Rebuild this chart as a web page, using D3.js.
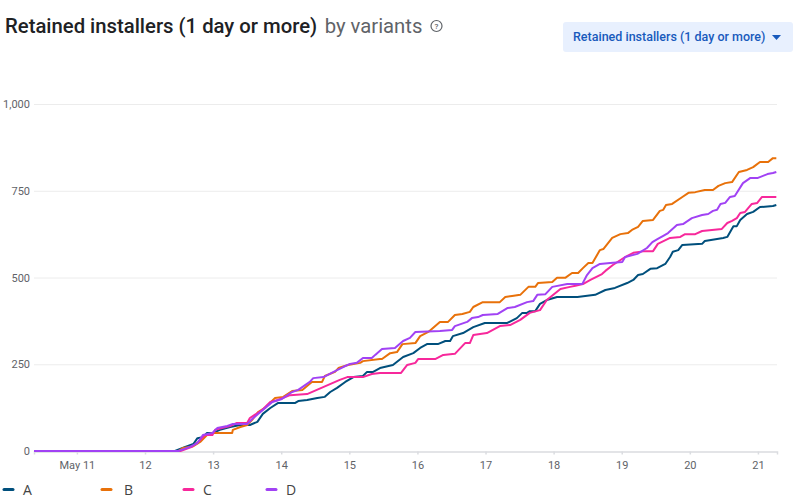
<!DOCTYPE html>
<html>
<head>
<meta charset="utf-8">
<script src="https://cdn.jsdelivr.net/npm/d3@7"></script>
<style>
  body { margin: 0; background: #fff; font-family: Roboto, sans-serif; }
  .grid line { stroke: #ececec; }
  .grid path { stroke: none; }
  .y-axis path, .y-axis line { stroke: none; }
  .y-axis text, .x-axis text { font: 11px Roboto, sans-serif; fill: #5f6368; }
  .x-axis path, .x-axis line { stroke: #dadce0; stroke-width: 1.5; }
  .series { fill: none; stroke-width: 2; stroke-linejoin: round; }
</style>
</head>
<body>
<script>
// data: x is day of May, y is installers
var names = ["A", "B", "C", "D"];
var colors = ["#004f7c", "#e8710a", "#f7289b", "#a142f4"];
var dayTicks = [11, 12, 13, 14, 15, 16, 17, 18, 19, 20, 21];
var dayLabels = ["May 11", "12", "13", "14", "15", "16", "17", "18", "19", "20", "21"];
var valueTicks = [0, 250, 500, 750, 1000];

var daysA = [10.37,12.44,12.59,12.71,12.77,12.85,12.91,13.00,13.10,13.25,13.40,13.54,13.65,13.73,13.84,13.95,14.20,14.25,14.38,14.53,14.64,14.72,14.82,14.94,15.06,15.20,15.26,15.35,15.45,15.64,15.79,15.94,16.04,16.14,16.30,16.41,16.48,16.52,16.67,16.82,16.99,17.32,17.46,17.54,17.61,17.65,17.73,17.80,17.90,18.05,18.35,18.61,18.76,18.90,19.08,19.17,19.24,19.31,19.42,19.52,19.64,19.71,19.75,19.83,19.89,20.18,20.22,20.49,20.55,20.64,20.69,20.74,20.84,20.93,21.03,21.22,21.27];
var valuesA = [0,0,12,20,37,40,52,52,61,69,75,75,84,107,124,138,138,144,147,153,156,170,182,199,213,216,228,228,239,248,271,282,297,308,308,317,317,331,340,357,369,369,383,398,398,403,403,424,435,444,444,450,464,470,484,493,507,510,525,527,539,559,574,579,594,597,605,614,617,648,648,666,683,689,703,706,709];

var daysB = [10.37,12.49,12.56,12.71,12.81,12.91,13.00,13.28,13.29,13.40,13.50,13.57,13.66,13.76,13.91,14.03,14.16,14.31,14.45,14.60,14.64,14.79,14.84,14.98,15.16,15.20,15.45,15.48,15.60,15.70,15.78,15.97,16.04,16.16,16.33,16.45,16.55,16.66,16.77,16.82,16.96,17.21,17.29,17.39,17.51,17.63,17.73,17.77,17.98,18.05,18.17,18.27,18.36,18.43,18.51,18.57,18.68,18.73,18.86,18.98,19.09,19.15,19.24,19.31,19.46,19.56,19.61,19.65,19.74,19.89,19.98,20.08,20.22,20.34,20.42,20.52,20.62,20.72,20.84,20.93,21.03,21.15,21.22,21.27];
var valuesB = [0,0,9,14,26,46,52,52,61,69,75,89,112,124,153,156,173,176,199,199,216,228,239,248,254,259,265,265,282,285,308,311,331,343,372,372,392,395,401,415,429,429,444,447,450,473,473,484,487,499,499,513,513,527,542,542,579,582,614,625,628,637,646,663,666,692,695,709,712,732,744,746,752,752,764,772,775,804,810,818,833,833,844,844];

var daysC = [10.37,12.52,12.69,12.78,12.88,12.99,13.03,13.13,13.25,13.35,13.50,13.54,13.72,13.84,13.95,14.13,14.38,14.86,14.97,15.20,15.33,15.45,15.76,15.85,15.97,16.01,16.26,16.38,16.55,16.70,16.77,16.82,17.02,17.21,17.36,17.51,17.65,17.80,17.90,18.10,18.24,18.32,18.43,18.54,18.71,18.76,18.87,19.05,19.17,19.34,19.46,19.53,19.71,19.86,19.93,20.08,20.18,20.47,20.55,20.62,20.69,20.74,20.81,20.91,20.99,21.06,21.27];
var valuesC = [0,0,12,26,46,46,61,66,72,81,81,95,118,141,147,161,164,205,213,213,222,225,225,248,254,265,265,277,280,311,311,334,340,360,363,378,398,406,435,467,473,476,481,493,510,519,536,559,571,576,576,597,614,617,625,625,634,640,657,663,671,686,689,712,715,732,732];

var daysD = [10.37,12.49,12.66,12.77,12.85,12.99,13.06,13.21,13.29,13.50,13.59,13.73,13.87,14.01,14.16,14.25,14.42,14.47,14.62,14.82,14.91,15.01,15.11,15.20,15.33,15.38,15.48,15.67,15.79,15.89,15.97,16.33,16.51,16.55,16.73,16.80,16.89,16.96,17.18,17.32,17.43,17.61,17.70,17.76,17.88,17.98,18.20,18.42,18.49,18.57,18.68,18.83,19.01,19.05,19.23,19.37,19.45,19.53,19.61,19.68,19.81,19.90,20.03,20.18,20.27,20.34,20.40,20.45,20.52,20.59,20.66,20.78,20.89,21.00,21.14,21.22,21.27];
var valuesD = [0,0,12,23,46,52,66,72,78,78,95,118,141,150,170,176,199,210,213,233,242,251,254,268,268,277,294,297,317,326,343,346,349,360,372,383,386,392,395,412,415,429,432,450,452,473,481,481,507,527,539,542,545,559,568,585,602,611,620,628,651,654,671,680,683,692,695,712,715,732,735,772,787,787,798,801,804];

var width = 800,
    height = 500;

var svg = d3.select("body").append("svg")
    .attr("width", width)
    .attr("height", height)
    .style("display", "block");

var x = d3.scaleLinear().domain([10.37, 21.28]).range([34, 777]);
var y = d3.scaleLinear().domain([0, 1000]).range([451, 104]);

// title
var title = svg.append("text").attr("x", 5).attr("y", 33)
    .style("font", "500 20.3px Roboto, sans-serif").style("fill", "#202124");
title.append("tspan").text("Retained installers (1 day or more)");
title.append("tspan").attr("dx", 7.5).style("font-weight", 400).style("fill", "#5f6368").text("by variants");

// help icon
svg.append("circle").attr("cx", 436.5).attr("cy", 26).attr("r", 5.5)
    .attr("fill", "none").attr("stroke", "#5f6368").attr("stroke-width", 1.2);
svg.append("text").attr("x", 436.5).attr("y", 29).attr("text-anchor", "middle")
    .style("font", "500 8px Roboto, sans-serif").style("fill", "#5f6368").text("?");

// metric dropdown
svg.append("rect").attr("x", 563).attr("y", 22).attr("width", 230).attr("height", 30).attr("rx", 3)
    .attr("fill", "#e8f0fe");
svg.append("text").attr("x", 573).attr("y", 41)
    .style("font", "500 12.5px Roboto, sans-serif").style("fill", "#185abc")
    .text("Retained installers (1 day or more)");
svg.append("path").attr("d", d3.line()([[772, 35], [781, 35], [776.5, 40]])).attr("fill", "#185abc");

// grid and axes
svg.append("g").attr("class", "grid")
    .attr("transform", "translate(34,0)")
    .call(d3.axisLeft(y).tickValues(valueTicks.slice(1)).tickSize(-743).tickFormat(""));

svg.append("g").attr("class", "y-axis")
    .attr("transform", "translate(34,0)")
    .call(d3.axisLeft(y).tickValues(valueTicks).tickSize(0).tickPadding(4).tickFormat(d3.format(",")));

svg.append("g").attr("class", "x-axis")
    .attr("transform", "translate(0,451.5)")
    .call(d3.axisBottom(x).tickValues(dayTicks).tickSizeOuter(0).tickSize(3).tickPadding(7)
      .tickFormat(function(d, i) { return dayLabels[i]; }));

// lines
var line = d3.line()
    .x(function(d) { return x(d[0]); })
    .y(function(d) { return y(d[1]); });

var allDays = [daysA, daysB, daysC, daysD];
var allValues = [valuesA, valuesB, valuesC, valuesD];

names.forEach(function(name, i) {
  svg.append("path")
      .attr("class", "series")
      .attr("stroke", colors[i])
      .attr("d", line(d3.zip(allDays[i], allValues[i])));
});

// legend
var legendX = [4, 102, 184, 267];
var legend = svg.selectAll(".legend").data(names).enter().append("g").attr("class", "legend");
legend.append("line")
    .attr("x1", function(d, i) { return legendX[i]; })
    .attr("x2", function(d, i) { return legendX[i] + 9; })
    .attr("y1", 489.5).attr("y2", 489.5)
    .attr("stroke", function(d, i) { return colors[i]; })
    .attr("stroke-width", 3).attr("stroke-linecap", "round");
legend.append("text")
    .attr("x", function(d, i) { return legendX[i] + (i == 1 ? 22 : 19); })
    .attr("y", 495)
    .style("font", "14px 'Open Sans', sans-serif").style("fill", "#444")
    .text(function(d) { return d; });
</script>
</body>
</html>
